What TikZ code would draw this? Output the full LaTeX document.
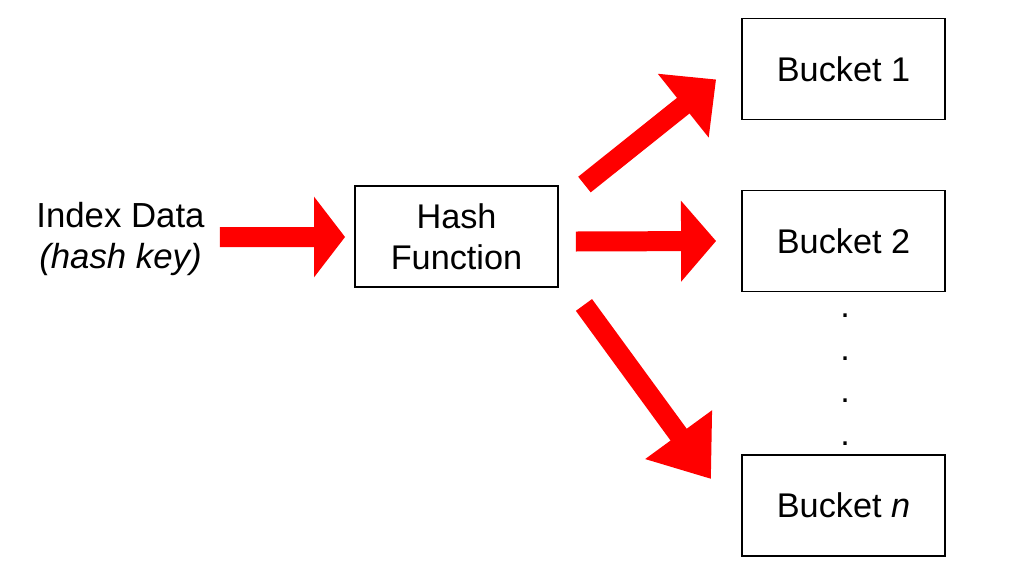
\documentclass[tikz,border=0pt]{standalone}
\usepackage{fontspec}
\setmainfont{Liberation Sans}
\usetikzlibrary{arrows.meta,positioning}

\begin{document}
\begin{tikzpicture}[
        x=0.02cm, y=-0.02cm,
        box/.style={rectangle, draw=black, line width=1.1pt, fill=white,
            minimum width=4.06cm, minimum height=2.02cm,
            font=\fontsize{19.5}{23.3}\selectfont, align=center},
        lbl/.style={inner sep=0pt, font=\fontsize{19.8}{23.3}\selectfont, align=center},
        dotmark/.style={inner sep=0pt, anchor=base, font=\fontsize{19.5}{23.3}\selectfont},
        bigarr/.style={line width=0.4cm, red,
            -{Triangle[width=1.58cm, length=#1]}}
      ]
      \useasboundingbox (0,0) rectangle (1021,585);

      % Input text — left, absolute coords
      \node[lbl] at (120.5, 239) (idx) {Index Data\\\textit{(hash key)}};

      % Hash function box — middle
      \node[box] at (456.5, 236.5) (hash) {Hash\\Function};

      % Buckets — right column, x=843.5
      \node[box] at (843.5,  69)   (b1) {Bucket 1};
      \node[box] at (843.5, 241)   (b2) {Bucket 2};
      \node[box] at (843.5, 505.5) (bn) {Bucket \textit{n}};

      % Dots between Bucket 2 and Bucket n
      \node[dotmark] at (845, 317.5) (d1) {.};
      \node[dotmark] at (845, 360.5) (d2) {.};
      \node[dotmark] at (845, 402.5) (d3) {.};
      \node[dotmark] at (845, 445.5) (d4) {.};

      % Input arrow
      \draw[bigarr=0.62cm] ([shift={(15,-2)}]idx.east) -- ([shift={(-9,0.5)}]hash.west);

      % Arrows to the buckets — start and end shifted off the box corners
      \draw[bigarr=0.84cm] ([shift={(25.5,-0.5)}]hash.north east) -- ([shift={(-25,-41)}]b1.south west);
      \draw[bigarr=0.70cm] ([shift={(17,5)}]hash.east)            -- ([shift={(-25,0)}]b2.west);
      \draw[bigarr=1.10cm] ([shift={(25,17)}]hash.south east)     -- ([shift={(-30,25)}]bn.north west);
    \end{tikzpicture}
\end{document}
